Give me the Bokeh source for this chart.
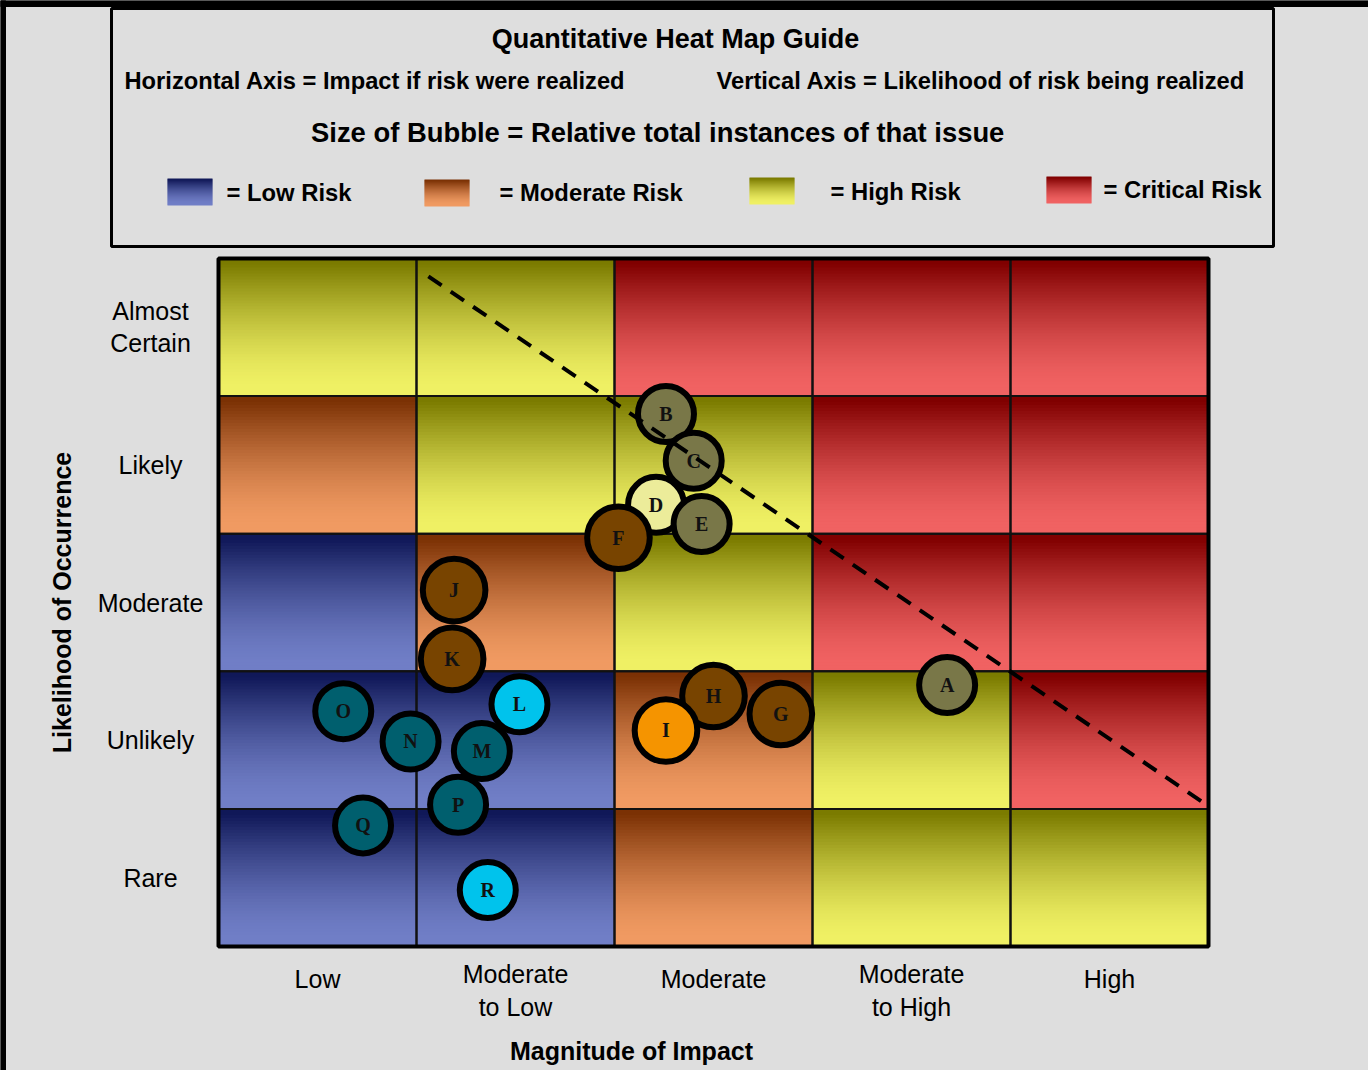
import math
from bokeh.plotting import figure
from bokeh.models import Range1d, ColumnDataSource
from bokeh.core.properties import value
from bokeh.embed import file_html
from bokeh.resources import INLINE

# ---------------- data ----------------
impact_labels = ["Low", "Moderate\nto Low", "Moderate", "Moderate\nto High", "High"]
likelihood_labels = ["Rare", "Unlikely", "Moderate", "Likely", "Almost\nCertain"]

# risk level of each cell, rows from "Rare" (bottom) to "Almost Certain" (top)
risk_rows = [
    ["Low", "Low", "Moderate", "High", "High"],
    ["Low", "Low", "Moderate", "High", "Critical"],
    ["Low", "Moderate", "High", "Critical", "Critical"],
    ["Moderate", "High", "High", "Critical", "Critical"],
    ["High", "High", "Critical", "Critical", "Critical"],
]
risk_levels = ["Low", "Moderate", "High", "Critical"]
legend_texts = ["= Low Risk", "= Moderate Risk", "= High Risk", "= Critical Risk"]

issue_ids = ["A", "B", "C", "D", "E", "F", "G", "H", "I",
             "J", "K", "L", "M", "N", "O", "P", "Q", "R"]
issue_impact = [3.68, 2.26, 2.40, 2.21, 2.44, 2.02, 2.84, 2.50, 2.26,
                1.19, 1.18, 1.52, 1.33, 0.97, 0.63, 1.21, 0.73, 1.36]
issue_likelihood = [1.90, 3.87, 3.53, 3.21, 3.07, 2.97, 1.69, 1.82, 1.57,
                    2.59, 2.09, 1.76, 1.42, 1.49, 1.71, 1.03, 0.88, 0.41]
issue_instances = [4, 4, 4, 4, 4, 5, 5, 5, 5, 5, 5, 4, 4, 4, 4, 4, 4, 4]
issue_group = ["olive", "olive", "olive", "pale", "olive", "brown", "brown", "brown", "orange",
               "brown", "brown", "cyan", "teal", "teal", "teal", "teal", "teal", "cyan"]

threshold_impact = [1.06, 5.0]
threshold_likelihood = [4.87, 1.02]

guide_title = "Quantitative Heat Map Guide"
guide_axes = ["Horizontal Axis = Impact if risk were realized",
              "Vertical Axis = Likelihood of risk being realized"]
guide_size = "Size of Bubble =  Relative total instances of that issue"
x_title = "Magnitude of Impact"
y_title = "Likelihood of Occurrence"

# ---------------- styles / layout ----------------
BG = "#dedede"
SANS = "Liberation Sans"
SERIF = "Liberation Serif"
grad = {
    "Low": ((16, 24, 88), (112, 126, 198)),
    "Moderate": ((123, 49, 4), (240, 154, 98)),
    "High": ((123, 123, 0), (239, 240, 100)),
    "Critical": ((128, 0, 0), (240, 98, 98)),
}
group_color = {"olive": "#797748", "pale": "#ecec9a", "brown": "#784400",
               "orange": "#f59400", "teal": "#005f6e", "cyan": "#00c3ec"}

W, H = 1368, 1070
GX0, GX1, GY0, GY1 = 218, 1208, 258, 946     # pixel box of the 5x5 grid
SX = (GX1 - GX0) / 5.0
SY = (GY1 - GY0) / 5.0


def X(px):
    return (px - GX0) / SX


def Y(py):
    return (GY1 - py) / SY


def ease(t):
    u = min(max((t - 0.04) / 0.9, 0.0), 1.0)
    return 1 - (1 - u) ** 1.5


def shade(level, t):
    a, b = grad[level]
    g = ease(t)
    return "#%02x%02x%02x" % tuple(int(round(a[i] + (b[i] - a[i]) * g)) for i in range(3))


p = figure(width=W, height=H, x_range=Range1d(X(0), X(W)), y_range=Range1d(Y(H), Y(0)),
           toolbar_location=None, output_backend="svg", min_border=0,
           outline_line_color=None, background_fill_color=BG, border_fill_color=BG)
p.axis.visible = False
p.grid.visible = False

# page edges
p.quad(left=[X(0), X(0)], right=[X(5), X(W)], top=[Y(0), Y(0)], bottom=[Y(H), Y(6)],
       color="black")

# ---------------- guide box ----------------
p.quad(left=X(111), right=X(1273), top=Y(8), bottom=Y(246), fill_color=None,
       line_color="black", line_width=3)

sw_left = [167, 424, 749, 1046]
sw_top = [178, 179, 177, 176]
sw_w, sw_h = 45, 27
ql, qr, qt, qb, qc = [], [], [], [], []
for lvl, L, T in zip(risk_levels, sw_left, sw_top):
    for k in range(sw_h):
        ql.append(X(L)); qr.append(X(L + sw_w))
        qt.append(Y(T + k)); qb.append(Y(min(T + k + 1.6, T + sw_h)))
        qc.append(shade(lvl, (k + 0.5) / sw_h))
p.quad(left=ql, right=qr, top=qt, bottom=qb, fill_color=qc, line_color=None)

bold = dict(text_font=value(SANS), text_font_style="bold", text_color="black",
            text_baseline="middle")
p.text(x=[X(675)], y=[Y(38)], text=[guide_title], text_font_size="27px",
       text_align="center", **bold)
p.text(x=[X(124), X(716)], y=[Y(80), Y(80)], text=guide_axes, text_font_size="23.7px",
       text_align="left", **bold)
p.text(x=[X(661)], y=[Y(132)], text=[guide_size], text_font_size="27.4px",
       text_align="center", **bold)
p.text(x=[X(226), X(499), X(830), X(1103)], y=[Y(192), Y(192), Y(191), Y(189)],
       text=legend_texts, text_font_size="23.8px", text_align="left", **bold)

# ---------------- heat map cells ----------------
N = 46
cl, cr, ct, cb, cc = [], [], [], [], []
for j, rrow in enumerate(risk_rows):
    for i, lvl in enumerate(rrow):
        for k in range(N):
            cl.append(i); cr.append(i + 1)
            ct.append(j + 1 - k / N); cb.append(max(j + 1 - (k + 1.6) / N, j))
            cc.append(shade(lvl, (k + 0.5) / N))
p.quad(left=cl, right=cr, top=ct, bottom=cb, fill_color=cc, line_color=None)

ol, orr, ot, ob = [], [], [], []
for j in range(len(risk_rows)):
    for i in range(len(risk_rows[j])):
        ol.append(i); orr.append(i + 1); ot.append(j + 1); ob.append(j)
p.quad(left=ol, right=orr, top=ot, bottom=ob, fill_color=None, line_color="#111111",
       line_width=2)
p.quad(left=0, right=len(impact_labels), top=len(likelihood_labels), bottom=0,
       fill_color=None, line_color="black", line_width=4)

# ---------------- bubbles ----------------
src = ColumnDataSource(dict(
    id=issue_ids, x=issue_impact, y=issue_likelihood,
    size=[28 * math.sqrt(v) for v in issue_instances],
    color=[group_color[g] for g in issue_group],
))
p.scatter(x="x", y="y", size="size", source=src, fill_color="color",
          line_color="black", line_width=6)
p.text(x="x", y="y", text="id", source=src, text_font=value(SERIF), text_font_style="bold",
       text_font_size="20px", text_align="center", text_baseline="middle", text_color="#111111")

p.line(x=threshold_impact, y=threshold_likelihood, line_color="black", line_width=4,
       line_dash="16 11")

# ---------------- axis labels ----------------
reg = dict(text_font=value(SANS), text_color="black", text_baseline="middle",
           text_align="center", text_font_size="25px", text_line_height=1.15)
one_line = [i + 0.5 for i, t in enumerate(impact_labels) if "\n" not in t]
two_line = [i + 0.5 for i, t in enumerate(impact_labels) if "\n" in t]
p.text(x=one_line, y=[Y(978)] * len(one_line),
       text=[t for t in impact_labels if "\n" not in t], **reg)
p.text(x=two_line, y=[Y(990)] * len(two_line),
       text=[t for t in impact_labels if "\n" in t], **reg)
p.text(x=[X(150)] * len(likelihood_labels), y=[j + 0.5 for j in range(len(likelihood_labels))],
       text=likelihood_labels, **reg)

p.text(x=[X(631)], y=[Y(1050)], text=[x_title], text_font_size="25px",
       text_align="center", **bold)
p.text(x=[X(61)], y=[2.5], text=[y_title], text_font_size="25px", angle=math.pi / 2,
       text_align="center", **bold)

open("out.html", "w").write(file_html(p, INLINE))
